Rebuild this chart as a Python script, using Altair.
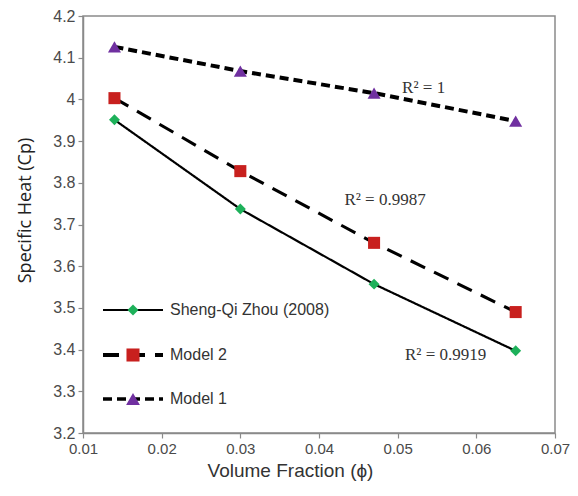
import altair as alt
import pandas as pd

# ---- data ----
phi = [0.014, 0.030, 0.047, 0.065]
series = ["Sheng-Qi Zhou (2008)", "Model 2", "Model 1"]
sheng = [3.951, 3.737, 3.557, 3.397]
model2 = [4.003, 3.828, 3.656, 3.490]
model1 = [4.126, 4.068, 4.015, 3.948]

r2_labels = ["R² = 1", "R² = 0.9987", "R² = 0.9919"]
r2_x = [0.0533, 0.0484, 0.0561]
r2_y = [4.027, 3.759, 3.387]

x_ticks = [0.01, 0.02, 0.03, 0.04, 0.05, 0.06, 0.07]
y_ticks = [3.2, 3.3, 3.4, 3.5, 3.6, 3.7, 3.8, 3.9, 4.0, 4.1, 4.2]

# ---- styles ----
colors = ["#1db15a", "#c8201e", "#7030a0"]
shapes = ["diamond", "square", "triangle-up"]
dashes = [[1, 0], [16, 10], [9, 5]]
widths = [2.2, 4, 3.6]
sizes = [120, 170, 190]
legend_y_px = [294, 339, 383]  # pixel rows of the in-plot legend

rows = []
for name, vals in zip(series, [sheng, model2, model1]):
    for xv, yv in zip(phi, vals):
        rows.append({"phi": xv, "cp": yv, "series": name})
df = pd.DataFrame(rows)

ann = pd.DataFrame({"label": r2_labels, "x": r2_x, "y": r2_y})

xscale = alt.Scale(domain=[0.01, 0.07], nice=False, zero=False)
yscale = alt.Scale(domain=[3.2, 4.2], nice=False, zero=False)

dash_scale = alt.Scale(domain=series, range=dashes)
width_scale = alt.Scale(domain=series, range=widths)
color_scale = alt.Scale(domain=series, range=colors)
shape_scale = alt.Scale(domain=series, range=shapes)
size_scale = alt.Scale(domain=series, range=sizes)

base = alt.Chart(df)

x_enc = alt.X(
    "phi:Q", scale=xscale,
    axis=alt.Axis(values=x_ticks, labelExpr="format(datum.value, '.2f')", labelFlush=False,
                  labelFontSize=15,
                  title="Volume Fraction (ϕ)", grid=False,
                  titleX=207, titleY=37, titleBaseline="middle", titleAlign="center",
                  titleFont="Liberation Sans", titleFontSize=19, titleFontWeight="normal",
                  titleColor="#333333"),
)
y_enc = alt.Y(
    "cp:Q", scale=yscale,
    axis=alt.Axis(values=y_ticks, labelExpr="format(datum.value, '.1~f')", labelFlush=False,
                  title="Specific Heat (Cp)", grid=False,
                  titleX=-58, titleY=194, titleAngle=-90, titleBaseline="middle", titleAlign="center",
                  titleFont="Open Sans", titleFontSize=18, titleFontWeight="normal",
                  titleColor="#222222"),
)

lines = base.mark_line(color="black").encode(
    x=x_enc, y=y_enc,
    detail="series:N",
    strokeDash=alt.StrokeDash("series:N", scale=dash_scale, legend=None),
    strokeWidth=alt.StrokeWidth("series:N", scale=width_scale, legend=None),
)

points = base.mark_point(filled=True, opacity=1).encode(
    x="phi:Q", y="cp:Q",
    color=alt.Color("series:N", scale=color_scale, legend=None),
    shape=alt.Shape("series:N", scale=shape_scale, legend=None),
    size=alt.Size("series:N", scale=size_scale, legend=None),
)

annot = alt.Chart(ann).mark_text(font="Liberation Serif", fontSize=17, color="#333333").encode(
    x="x:Q", y="y:Q", text="label:N"
)

layers = [lines, points, annot]

# manual in-plot legend (line + marker + label), one row per series
for i, name in enumerate(series):
    one = alt.Chart(pd.DataFrame({"series": [name]}))
    ly = legend_y_px[i]
    layers.append(one.mark_rule(color="black", strokeDash=dashes[i], strokeWidth=widths[i]).encode(
        x=alt.value(20), x2=alt.value(80), y=alt.value(ly)))
    layers.append(one.mark_point(filled=True, opacity=1, shape=shapes[i], size=sizes[i],
                                 color=colors[i]).encode(x=alt.value(50), y=alt.value(ly)))
    layers.append(one.mark_text(align="left", baseline="middle", font="Liberation Sans",
                                fontSize=16, color="#333333").encode(
        x=alt.value(87), y=alt.value(ly), text="series:N"))

chart = alt.layer(*layers).properties(
    width=472, height=417,
    autosize=alt.AutoSizeParams(type="none"),
    padding={"left": 75, "top": 8, "right": 15, "bottom": 50},
).configure_view(
    stroke="#8a8a8a", strokeWidth=1.5
).configure_axis(
    domainColor="#8a8a8a", domainWidth=1.5, tickColor="#8a8a8a", tickSize=5, tickWidth=1.2,
    labelFont="Liberation Sans", labelFontSize=16, labelColor="#4a4a4a", labelPadding=3,
)

chart.save("out.html", embed_options={"renderer": "svg", "actions": False})
